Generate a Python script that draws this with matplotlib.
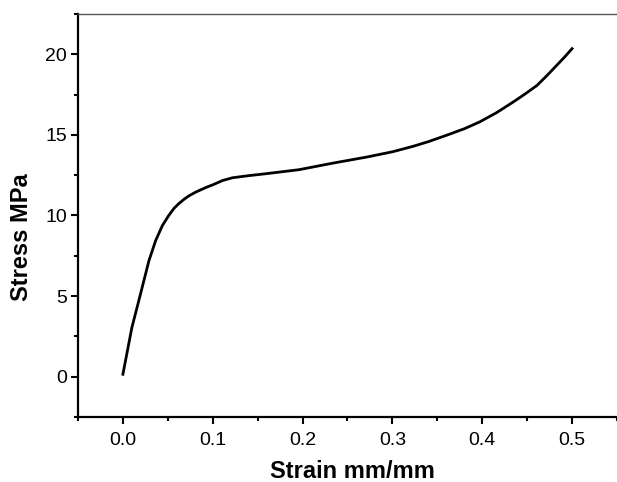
import matplotlib
matplotlib.use('Agg')
import matplotlib.pyplot as plt
from matplotlib.ticker import MultipleLocator

# ── Stress-strain curve ─────────────────────────────────────────────────
strain = [0.000, 0.005, 0.010, 0.016, 0.0215, 0.029, 0.0365, 0.044, 0.051,
          0.057, 0.0625, 0.068, 0.073, 0.080, 0.085, 0.093, 0.100, 0.111,
          0.122, 0.140, 0.159, 0.196, 0.234, 0.271, 0.300, 0.323, 0.340,
          0.360, 0.380, 0.397, 0.416, 0.4345, 0.448, 0.461, 0.472, 0.483,
          0.492, 0.500]
stress = [0.15, 1.6, 3.05, 4.35, 5.55, 7.2, 8.45, 9.38, 10.0,
          10.45, 10.75, 11.0, 11.2, 11.42, 11.55, 11.75, 11.9, 12.17,
          12.34, 12.47, 12.59, 12.84, 13.25, 13.62, 13.95, 14.29, 14.58,
          14.97, 15.38, 15.80, 16.38, 17.04, 17.55, 18.07, 18.68, 19.32,
          19.85, 20.35]

plt.rcParams.update({
    'font.family': ['Liberation Sans', 'DejaVu Sans'],
    'font.size': 14,
})

fig = plt.figure(figsize=(6.17, 4.82), dpi=100)
ax = fig.add_axes([0.1264, 0.1349, 0.8736, 0.8361])

ax.plot(strain, stress, color='black', linewidth=2.0)

ax.set_xlim(-0.05, 0.55)
ax.set_ylim(-2.5, 22.5)
ax.xaxis.set_minor_locator(MultipleLocator(0.05))
ax.yaxis.set_major_locator(MultipleLocator(5))
ax.yaxis.set_minor_locator(MultipleLocator(2.5))
ax.set_xticks([0.0, 0.1, 0.2, 0.3, 0.4, 0.5])
ax.set_xticklabels(['0.0', '0.1', '0.2', '0.3', '0.4', '0.5'])

ax.tick_params(which='major', direction='out', length=5, width=1.5, labelsize=14)
ax.tick_params(axis='x', which='major', pad=6)
ax.tick_params(axis='y', which='major', pad=3)
ax.tick_params(which='minor', direction='out', length=3, width=1.5)

ax.spines['right'].set_visible(False)
ax.spines['top'].set_color('#555555')
ax.spines['top'].set_linewidth(1.0)
ax.spines['left'].set_linewidth(1.6)
ax.spines['bottom'].set_linewidth(1.6)

ax.set_xlabel('Strain mm/mm', fontsize=17, fontweight='bold')
ax.set_ylabel('Stress MPa', fontsize=17, fontweight='bold')
ax.xaxis.set_label_coords(0.51, -0.107)
ax.yaxis.set_label_coords(-0.083, 0.447)

fig.savefig('out.png', dpi=100, facecolor='white')
